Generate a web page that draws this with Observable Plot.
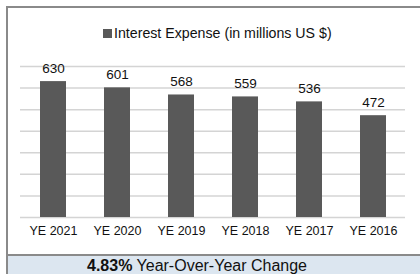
<!DOCTYPE html>
<html>
<head>
<meta charset="utf-8">
<script src="https://cdn.jsdelivr.net/npm/d3@7"></script>
<script src="https://cdn.jsdelivr.net/npm/@observablehq/plot@0.6"></script>
<style>
  html, body { margin: 0; padding: 0; background: #fff; }
  #wrap { position: relative; width: 420px; height: 274px; overflow: hidden; font-family: "Liberation Sans", Arial, sans-serif; background:#fff; }
  #frameL { position: absolute; left: 6px; top: 6px; width: 2px; height: 268px; background: #8a8a8a; }
  #frameT { position: absolute; left: 6px; top: 6px; width: 414px; height: 2px; background: #8a8a8a; }
  #legend { position: absolute; left: 103px; top: 24px; white-space: nowrap; font-size: 14.2px; color: #111; line-height: 18px; }
  #legend .sw { display: inline-block; width: 9px; height: 9px; background: #595959; margin-right: 2px; vertical-align: 0px; }
  #chart { position: absolute; left: 0; top: 45px; }
  #footer { position: absolute; left: 8px; top: 254px; width: 412px; height: 18px; border-top: 2px solid #8a8a8a; background: #dce6f0; }
  #footer span.in { position: absolute; left: 79px; top: 0px; line-height: 20px; font-size: 16px; color: #111; white-space: nowrap; }
</style>
</head>
<body>
<div id="wrap">
  <div id="frameL"></div>
  <div id="frameT"></div>
  <div id="legend"><span class="sw"></span>Interest Expense (in millions US $)</div>
  <div id="chart"></div>
  <div id="footer"><span class="in"><b>4.83%</b> Year-Over-Year Change</span></div>
</div>
<script>
const years = ["YE 2021", "YE 2020", "YE 2019", "YE 2018", "YE 2017", "YE 2016"];
const values = [630, 601, 568, 559, 536, 472];
const gridTicks = [0, 100, 200, 300, 400, 500, 600, 700];

const data = years.map((y, i) => ({year: y, value: values[i]}));

const plot = Plot.plot({
  width: 420,
  height: 205,
  marginLeft: 20,
  marginRight: 15,
  marginTop: 21,
  marginBottom: 33,
  style: {fontFamily: "Liberation Sans, Arial, sans-serif", fontSize: "12.5px", color: "#111", background: "transparent"},
  x: {domain: years, paddingInner: 0.594, paddingOuter: 0.297, label: null, tickSize: 0, tickPadding: 9},
  y: {domain: [0, 700], axis: null},
  marks: [
    Plot.ruleY(gridTicks, {stroke: "#d4d4d4", strokeWidth: 1.5}),
    Plot.barY(data, {x: "year", y: "value", fill: "#595959"}),
    Plot.text(data, {x: "year", y: "value", text: d => String(d.value), lineAnchor: "bottom", dy: -9, fontSize: 13.5, fill: "#111"})
  ]
});
document.getElementById("chart").appendChild(plot);
</script>
</body>
</html>
